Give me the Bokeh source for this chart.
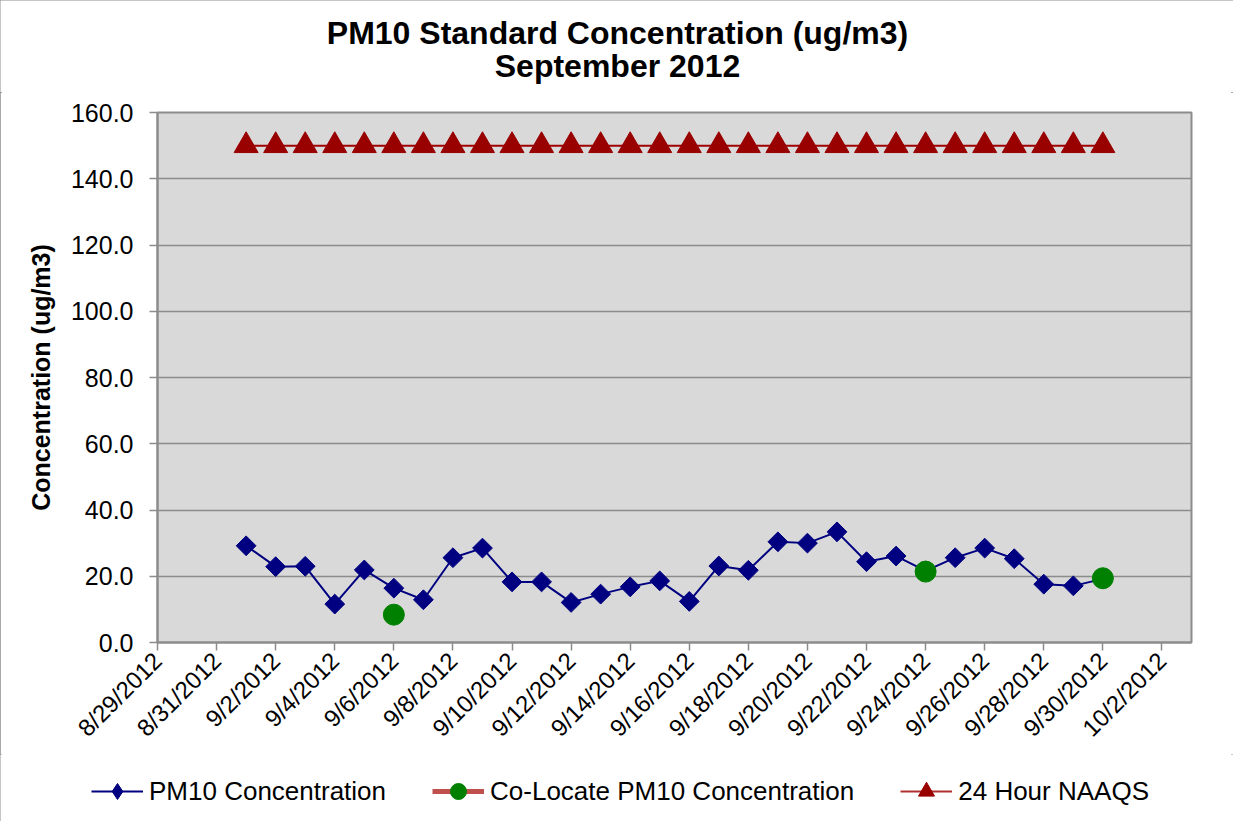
import numpy as np
import pandas as pd
from bokeh.plotting import figure
from bokeh.layouts import column
from bokeh.core.properties import value
from bokeh.models import (ColumnDataSource, Legend, LegendItem, FixedTicker,
                          NumeralTickFormatter, Range1d)
from bokeh.embed import file_html
from bokeh.resources import INLINE

# ---- data ----
title_lines = ["PM10 Standard Concentration (ug/m3)", "September 2012"]
axis_start = "8/29/2012"
axis_end = "10/3/2012"
tick_labels = ["8/29/2012", "8/31/2012", "9/2/2012", "9/4/2012", "9/6/2012", "9/8/2012",
               "9/10/2012", "9/12/2012", "9/14/2012", "9/16/2012", "9/18/2012", "9/20/2012",
               "9/22/2012", "9/24/2012", "9/26/2012", "9/28/2012", "9/30/2012", "10/2/2012"]
pm10_dates = [f"9/{d}/2012" for d in range(1, 31)]
pm10_values = [29.2, 22.9, 23.0, 11.6, 21.9, 16.4, 12.9, 25.6, 28.5, 18.3,
               18.3, 12.1, 14.6, 16.8, 18.6, 12.4, 23.1, 21.8, 30.4, 30.0,
               33.4, 24.4, 26.1, 21.6, 25.6, 28.5, 25.3, 17.6, 17.1, 19.2]
colocate_dates = ["9/6/2012", "9/24/2012", "9/30/2012"]
colocate_values = [8.4, 21.4, 19.4]
naaqs_dates = pm10_dates
naaqs_values = [150.0] * 30
series_names = ["PM10 Concentration", "Co-Locate PM10 Concentration", "24 Hour NAAQS"]

FONT = "Liberation Sans"
W = 1233

t0 = pd.to_datetime(axis_start, format="%m/%d/%Y")
def days(lst):
    return [(pd.to_datetime(s, format="%m/%d/%Y") - t0).days for s in lst]

x_end = days([axis_end])[0]
tick_pos = days(tick_labels)

# ---- title strip ----
TH = 92
tf = figure(width=W, height=TH, output_backend="svg", toolbar_location=None,
            x_range=Range1d(0, W), y_range=Range1d(0, TH),
            min_border_left=0, min_border_right=0, min_border_top=0, min_border_bottom=0)
tf.frame_align = False
tf.axis.visible = False
tf.grid.visible = False
tf.outline_line_color = None
tf.background_fill_color = "white"
tf.border_fill_color = "white"
tf.text(x=[617, 617], y=[TH - 32, TH - 65], text=title_lines,
        text_font=value(FONT), text_font_size="32px", text_font_style="bold",
        text_color="black", text_align="center", text_baseline="middle")

# ---- main plot ----
p = figure(width=W, height=662, output_backend="svg", toolbar_location=None,
           x_range=Range1d(0, x_end), y_range=Range1d(0, 160),
           min_border_left=157, min_border_right=42, min_border_top=20, min_border_bottom=112)
p.frame_align = False

p.background_fill_color = "#D9D9D9"
p.border_fill_color = "white"
p.outline_line_color = "#8c8c8c"
p.outline_line_width = 2

p.xgrid.visible = False
p.ygrid.grid_line_color = "#8c8c8c"
p.ygrid.grid_line_width = 1.5

p.yaxis.ticker = FixedTicker(ticks=list(range(0, 161, 20)))
p.yaxis.formatter = NumeralTickFormatter(format="0.0")
p.yaxis.axis_label = "Concentration (ug/m3)"
p.yaxis.axis_label_text_font = FONT
p.yaxis.axis_label_text_font_size = "25px"
p.yaxis.axis_label_text_font_style = "bold"
p.yaxis.axis_label_text_color = "black"
p.yaxis.axis_label_standoff = 13
p.yaxis.major_label_text_font = FONT
p.yaxis.major_label_text_font_size = "25px"
p.yaxis.major_label_text_color = "black"
p.yaxis.major_label_standoff = 16

p.xaxis.ticker = FixedTicker(ticks=tick_pos)
p.xaxis.major_label_overrides = {pos: lab for pos, lab in zip(tick_pos, tick_labels)}
p.xaxis.major_label_orientation = np.pi / 4
p.xaxis.major_label_text_font = FONT
p.xaxis.major_label_text_font_size = "24px"
p.xaxis.major_label_text_color = "black"
p.xaxis.major_label_standoff = 6

for ax in (p.xaxis, p.yaxis):
    ax.axis_line_color = "#8c8c8c"
    ax.axis_line_width = 2
    ax.major_tick_line_color = "#8c8c8c"
    ax.major_tick_line_width = 1.5
    ax.major_tick_out = 8
    ax.major_tick_in = 0
    ax.minor_tick_line_color = None

src_pm = ColumnDataSource(dict(x=days(pm10_dates), y=pm10_values))
src_co = ColumnDataSource(dict(x=days(colocate_dates), y=colocate_values))
src_na = ColumnDataSource(dict(x=days(naaqs_dates), y=naaqs_values))

p.line("x", "y", source=src_na, line_color="#A00000", line_width=2)
p.scatter("x", "y", source=src_na, marker="triangle", size=24,
          fill_color="#990000", line_color="#990000")

p.line("x", "y", source=src_pm, line_color="#000080", line_width=2)
p.scatter("x", "y", source=src_pm, marker="square", angle=np.pi / 4, size=14,
          fill_color="#000080", line_color="#000080")

p.scatter("x", "y", source=src_co, marker="circle", size=21,
          fill_color="#008000", line_color="#008000")

# ---- legend strip ----
lf = figure(width=W, height=67, output_backend="svg", toolbar_location=None,
            x_range=Range1d(-1000, -999), y_range=Range1d(-1000, -999),
            min_border_left=0, min_border_right=0, min_border_top=0, min_border_bottom=0)
lf.frame_align = False
lf.axis.visible = False
lf.grid.visible = False
lf.outline_line_color = None
lf.background_fill_color = "white"
lf.border_fill_color = "white"

# legend proxies share the series' sources; the strip's ranges keep them out of view
l_pm_line = lf.line("x", "y", source=src_pm, line_color="#000080", line_width=2)
l_pm_mark = lf.scatter("x", "y", source=src_pm, marker="diamond", fill_color="#000080",
                       line_color="#000080")
l_co_line = lf.line("x", "y", source=src_co, line_color="#C0504D", line_width=5)
l_co_mark = lf.scatter("x", "y", source=src_co, marker="circle", fill_color="#008000",
                       line_color="#008000")
l_na_line = lf.line("x", "y", source=src_na, line_color="#B03030", line_width=2)
l_na_mark = lf.scatter("x", "y", source=src_na, marker="triangle", fill_color="#990000",
                       line_color="#990000")

legend = Legend(items=[
    LegendItem(label=series_names[0], renderers=[l_pm_line, l_pm_mark]),
    LegendItem(label=series_names[1], renderers=[l_co_line, l_co_mark]),
    LegendItem(label=series_names[2], renderers=[l_na_line, l_na_mark]),
], orientation="horizontal", location=(91, 10))
legend.label_text_font = FONT
legend.label_text_font_size = "26px"
legend.label_text_color = "black"
legend.glyph_width = 52
legend.glyph_height = 40
legend.label_standoff = 6
legend.spacing = 46
legend.padding = 4
legend.margin = 0
legend.border_line_color = None
legend.background_fill_alpha = 0
lf.add_layout(legend, "center")

layout = column(tf, p, lf, spacing=0,
                styles={"outline": "2px solid #8c8c8c", "outline-offset": "-2px"})

open("out.html", "w").write(file_html(layout, INLINE))
